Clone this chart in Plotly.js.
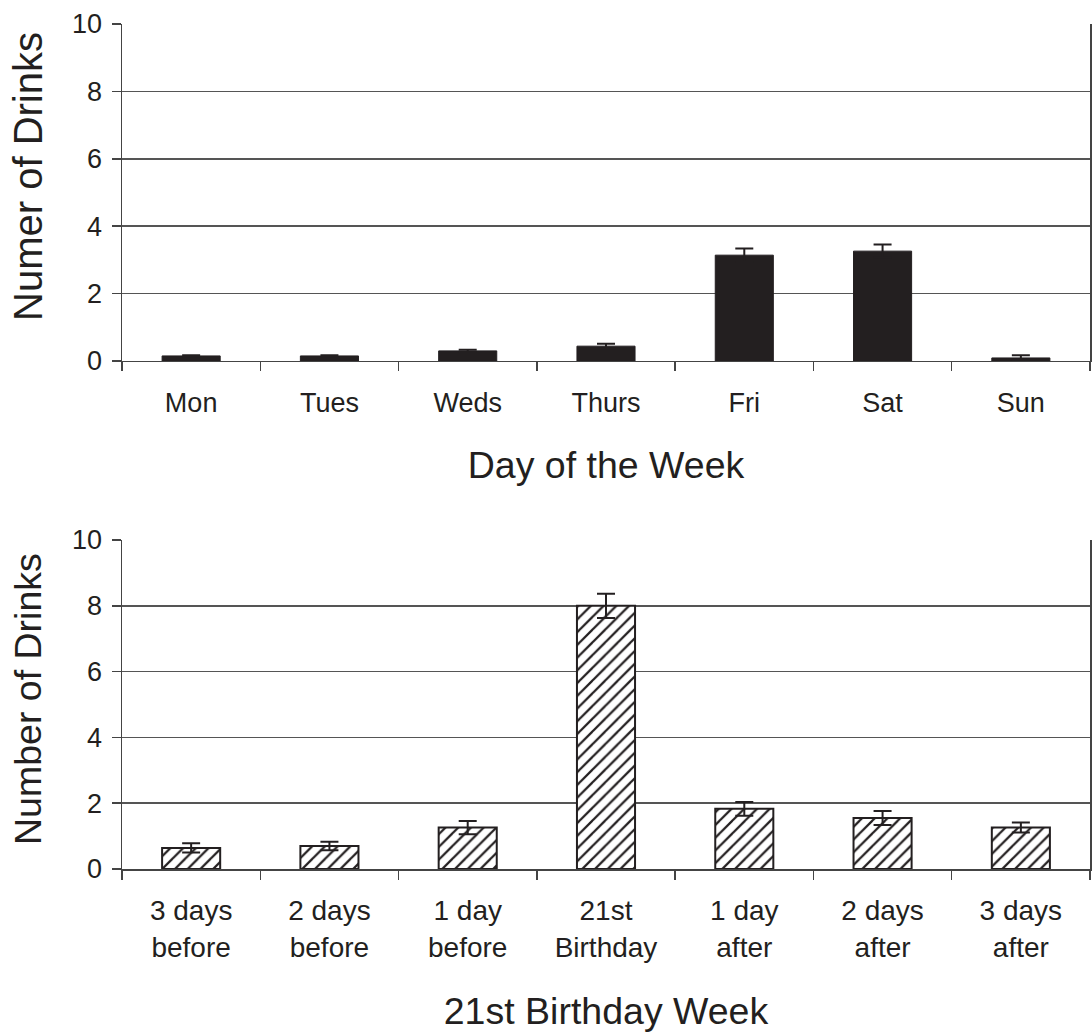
<!DOCTYPE html>
<html><head><meta charset="utf-8">
<script src="https://cdn.plot.ly/plotly-3.0.1.min.js"></script>
<style>body{margin:0;background:#fff}#c{width:1092px;height:1036px}</style>
</head><body><div id="c"></div>
<script>
const days = ["Mon","Tues","Weds","Thurs","Fri","Sat","Sun"];
const dayMeans = [0.15,0.15,0.3,0.44,3.14,3.26,0.09];
const dayErr = [0.02,0.02,0.03,0.07,0.2,0.2,0.08];
const bdayLabels = ["3 days<br>before","2 days<br>before","1 day<br>before","21st<br>Birthday","1 day<br>after","2 days<br>after","3 days<br>after"];
const bdayMeans = [0.64,0.70,1.26,8.0,1.83,1.55,1.26];
const bdayErr = [0.14,0.13,0.2,0.37,0.21,0.21,0.15];
const yTicks = [0,2,4,6,8,10];

const ink = '#231f20';
const fnt = 'Liberation Sans, Arial, sans-serif';
const traces = [
 {type:'bar', x:days, y:dayMeans, xaxis:'x', yaxis:'y', width:0.42,
  marker:{color:ink, line:{color:ink,width:1}},
  error_y:{type:'data', array:dayErr, visible:true, color:ink, thickness:2, width:9}},
 {type:'bar', x:bdayLabels, y:bdayMeans, xaxis:'x2', yaxis:'y2', width:0.42,
  marker:{color:'#ffffff', line:{color:ink,width:2},
   pattern:{shape:'/', fgcolor:ink, bgcolor:'#ffffff', size:9, solidity:0.25}},
  error_y:{type:'data', array:bdayErr, visible:true, color:ink, thickness:2, width:9}}
];
const yax = (dom) => ({domain:dom, range:[0,10], tickvals:yTicks, ticks:'outside', ticklen:9, tickwidth:1.5, tickcolor:'#444',
  showline:true, mirror:true, linecolor:'#444', linewidth:1.5, showgrid:true, gridcolor:'#555', gridwidth:1.5, zeroline:false,
  tickfont:{size:27, color:ink}, ticklabelstandoff:4, fixedrange:true});
const xax = (anchor, title, standoff, fs, tls) => ({anchor:anchor, type:'category', tickson:'boundaries', ticks:'outside', ticklen:9, tickwidth:1.5, tickcolor:'#444',
  showline:true, linecolor:'#444', linewidth:1.5, showgrid:false, tickfont:{size:fs, color:ink}, ticklabelstandoff:tls,
  title:{text:title, font:{size:37.5, color:ink}, standoff:standoff}, fixedrange:true});
const ytitle = (text, y, size) => ({text:text, xref:'paper', yref:'paper', x:-0.0971, y:y, xanchor:'center', yanchor:'middle',
  textangle:-90, showarrow:false, font:{size:size, color:ink}});
const layout = {
  width:1092, height:1036, showlegend:false, paper_bgcolor:'#fff', plot_bgcolor:'#fff',
  font:{family:fnt, color:ink},
  margin:{l:122, r:2, t:24, b:167},
  bargap:0.58,
  xaxis: xax('y', 'Day of the Week', 35, 27, 17),
  yaxis: yax([0.6012,1]),
  xaxis2: xax('y2', '21st Birthday Week', 36, 28, 16),
  yaxis2: yax([0,0.3893]),
  annotations:[ytitle('Numer of Drinks', 0.819, 40), ytitle('Number of Drinks', 0.2012, 37.5)]
};
Plotly.newPlot('c', traces, layout, {displayModeBar:false, staticPlot:true});
</script></body></html>
